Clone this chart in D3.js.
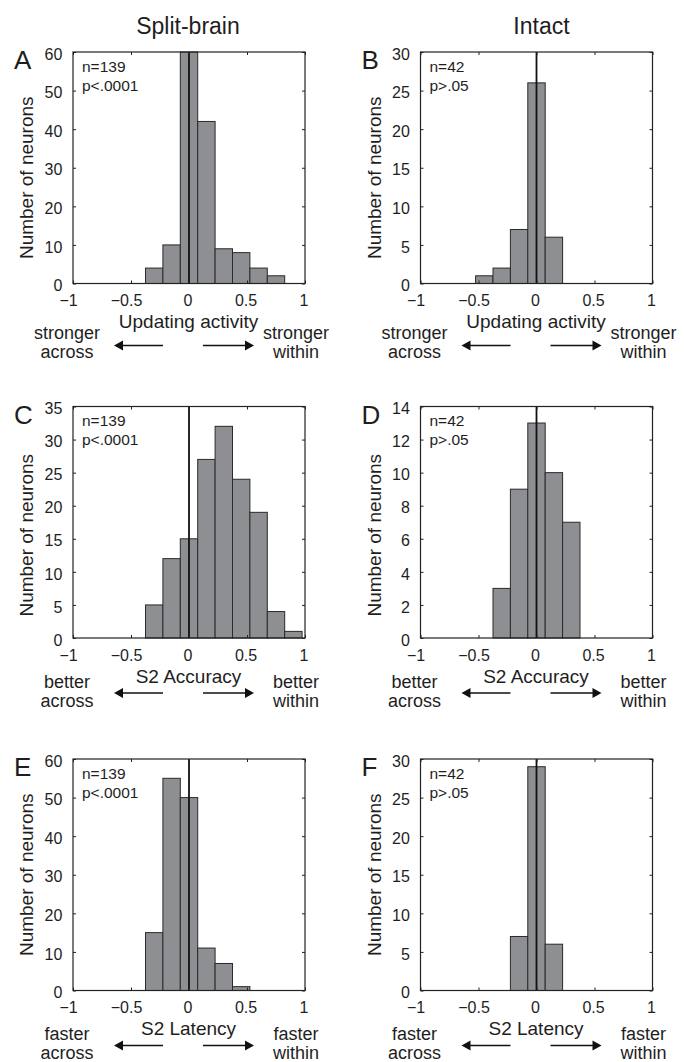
<html>
<head>
<meta charset="utf-8">
<style>
  body { margin: 0; background: #fff; }
  text { font-family: "Liberation Sans", Arial, Helvetica, sans-serif; fill: #1e1e1e; }
</style>
</head>
<body>
<div id="chartContainer"></div>
<script src="https://cdnjs.cloudflare.com/ajax/libs/d3/7.8.5/d3.min.js"></script>
<script type="text/javascript">
  // histogram bins (centres) shared by every panel, width 0.15
  var binCenters = [-0.45, -0.3, -0.15, 0, 0.15, 0.3, 0.45, 0.6, 0.75, 0.9];
  var binWidth = 0.15;

  // counts
  var countsA = [0, 4, 10, 60, 42, 9, 8, 4, 2, 0];
  var countsB = [1, 2, 7, 26, 6, 0, 0, 0, 0, 0];
  var countsC = [0, 5, 12, 15, 27, 32, 24, 19, 4, 1];
  var countsD = [0, 3, 9, 13, 10, 7, 0, 0, 0, 0];
  var countsE = [0, 15, 55, 50, 11, 7, 1, 0, 0, 0];
  var countsF = [0, 0, 7, 29, 6, 0, 0, 0, 0, 0];

  var panelLetters = ["A", "B", "C", "D", "E", "F"];
  var yMaxes = [60, 30, 35, 14, 60, 30];
  var yTickSteps = [10, 5, 5, 2, 10, 5];
  var nLabels = ["n=139", "n=42", "n=139", "n=42", "n=139", "n=42"];
  var pLabels = ["p<.0001", "p>.05", "p<.0001", "p>.05", "p<.0001", "p>.05"];

  var columnTitles = ["Split-brain", "Intact"];
  var xTitles = ["Updating activity", "S2 Accuracy", "S2 Latency"];
  var leftWords = [["stronger", "across"], ["better", "across"], ["faster", "across"]];
  var rightWords = [["stronger", "within"], ["better", "within"], ["faster", "within"]];
  var xTickValues = [-1, -0.5, 0, 0.5, 1];
  var yLabel = "Number of neurons";

  var allCounts = [countsA, countsB, countsC, countsD, countsE, countsF];

  // layout
  var W = 684, H = 1062;
  var colX = [73, 420.5];
  var rowY = [52, 406.5, 759];
  var pw = 232, ph = 231.5;
  // offsets of the direction words / arrows below each axis, y label shift
  var rowText = [
    { l1: 55.5, l2: 74.5, arrow: 62, ylab: 10 },
    { l1: 50, l2: 69, arrow: 55, ylab: 13 },
    { l1: 49.5, l2: 68.5, arrow: 55, ylab: 0 }
  ];

  var svg = d3.select("#chartContainer").append("svg")
    .attr("width", W)
    .attr("height", H);

  // column titles
  columnTitles.forEach(function (t, c) {
    svg.append("text")
      .attr("x", colX[c] + pw / 2 + (c === 0 ? -1 : 5))
      .attr("y", 33.5)
      .attr("text-anchor", "middle")
      .style("font-size", "23px")
      .text(t);
  });

  allCounts.forEach(function (counts, i) {
    var row = Math.floor(i / 2), col = i % 2;
    var left = colX[col], top = rowY[row];

    var x = d3.scaleLinear().domain([-1, 1]).range([0, pw]);
    var y = d3.scaleLinear().domain([0, yMaxes[i]]).range([ph, 0]);
    var yTicks = d3.range(0, yMaxes[i] + 0.001, yTickSteps[i]);

    var g = svg.append("g").attr("transform", "translate(" + left + "," + top + ")");

    // bars (empty bins are not drawn)
    var bins = binCenters.map(function (c, k) { return { c: c, n: counts[k] }; })
      .filter(function (d) { return d.n > 0; });
    g.selectAll("rect.bar")
      .data(bins)
      .enter()
      .append("rect")
        .attr("class", "bar")
        .attr("x", function (d) { return x(d.c - binWidth / 2); })
        .attr("y", function (d) { return y(d.n); })
        .attr("width", function (d) { return x(d.c + binWidth / 2) - x(d.c - binWidth / 2); })
        .attr("height", function (d) { return y(0) - y(d.n); })
        .style("fill", "#8e8f93")
        .style("stroke", "#2a2a2a")
        .style("stroke-width", 1);

    // zero line
    g.append("line")
      .attr("x1", x(0)).attr("x2", x(0))
      .attr("y1", y(0)).attr("y2", y(yMaxes[i]))
      .style("stroke", "#111")
      .style("stroke-width", 1.8);

    // axes, matlab style: inward ticks on all four sides
    var bottom = g.append("g")
      .attr("transform", "translate(0," + ph + ")")
      .call(d3.axisBottom(x).tickValues(xTickValues).tickSizeInner(-3).tickSizeOuter(0)
        .tickPadding(11.3).tickFormat(function (d) { return d3.format("")(d); }));
    bottom.selectAll("text")
      .attr("dx", function (d) { return d < 0 ? -5 : -1.5; });

    g.append("g")
      .call(d3.axisTop(x).tickValues(xTickValues).tickSizeInner(-3).tickSizeOuter(0).tickFormat(""));

    var leftAx = g.append("g")
      .call(d3.axisLeft(y).tickValues(yTicks).tickSizeInner(-3).tickSizeOuter(0).tickPadding(10.7));
    leftAx.selectAll("text").attr("dy", "0.45em");

    g.append("g")
      .attr("transform", "translate(" + pw + ",0)")
      .call(d3.axisRight(y).tickValues(yTicks).tickSizeInner(-3).tickSizeOuter(0).tickFormat(""));

    g.selectAll(".domain").remove();
    g.selectAll(".tick line").style("stroke", "#222");
    g.selectAll(".tick text")
      .style("font-size", "16px")
      .style("fill", "#1e1e1e")
      .attr("font-family", null);

    // box
    g.append("rect")
      .attr("width", pw).attr("height", ph)
      .style("fill", "none")
      .style("stroke", "#222")
      .style("stroke-width", 1.2);

    // n / p annotation
    g.append("text").attr("x", 9).attr("y", 19.7).style("font-size", "15.5px").text(nLabels[i]);
    g.append("text").attr("x", 9).attr("y", 38.5).style("font-size", "15.5px").text(pLabels[i]);

    // panel letter
    g.append("text")
      .attr("x", -59).attr("y", 17)
      .style("font-size", "26px")
      .text(panelLetters[i]);

    // y label
    g.append("text")
      .attr("transform", "translate(-40," + (ph / 2 + rowText[row].ylab) + ") rotate(-90)")
      .attr("text-anchor", "middle")
      .style("font-size", "19px")
      .text(yLabel);

    // x label
    g.append("text")
      .attr("x", x(0) - 0.5)
      .attr("y", ph + 44.5)
      .attr("text-anchor", "middle")
      .style("font-size", "19px")
      .text(xTitles[row]);

    // direction words
    var rt = rowText[row];
    [leftWords[row], rightWords[row]].forEach(function (words, s) {
      var cx = s === 0 ? x(0) - 122 : x(0) + 107;
      words.forEach(function (w, k) {
        g.append("text")
          .attr("x", cx)
          .attr("y", ph + (k === 0 ? rt.l1 : rt.l2))
          .attr("text-anchor", "middle")
          .style("font-size", "18px")
          .text(w);
      });
    });

    // arrows
    var ay = ph + rt.arrow;
    var arrows = [[x(0) - 26, x(0) - 75], [x(0) + 14, x(0) + 65]];
    arrows.forEach(function (a) {
      var dir = a[1] > a[0] ? 1 : -1;
      g.append("line")
        .attr("x1", a[0]).attr("x2", a[1] - dir * 7)
        .attr("y1", ay).attr("y2", ay)
        .style("stroke", "#111")
        .style("stroke-width", 1.5);
      g.append("path")
        .attr("d", "M" + a[1] + "," + ay + "L" + (a[1] - dir * 9) + "," + (ay - 5) +
          "L" + (a[1] - dir * 9) + "," + (ay + 5) + "Z")
        .style("fill", "#111");
    });
  });
</script>
</body>
</html>
